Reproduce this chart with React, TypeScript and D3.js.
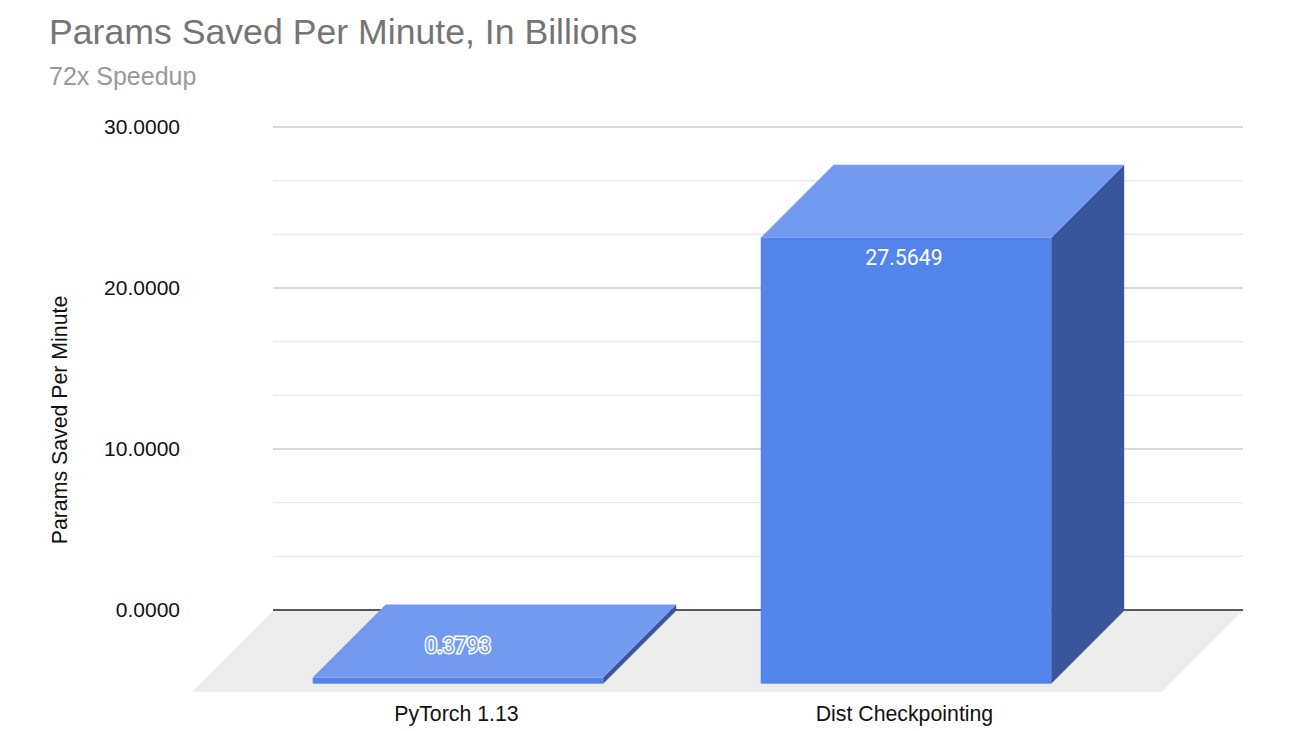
import React from "react";
import * as d3 from "d3";

const categories = ["PyTorch 1.13", "Dist Checkpointing"];
const values = [0.3793, 27.5649];
const valueLabels = ["0.3793", "27.5649"];
const majorTicks = [0, 10, 20, 30];
const minorTicks = [3.333, 6.667, 13.333, 16.667, 23.333, 26.667];
const title = "Params Saved Per Minute, In Billions";
const subtitle = "72x Speedup";
const yTitle = "Params Saved Per Minute";

const SANS = "'Liberation Sans', Arial, sans-serif";
const depth = 73;

const y = d3.scaleLinear().domain([0, 30]).range([610, 127]);
const barH = d3.scaleLinear().domain([0, 30]).range([0, 485.4]);
const x = d3.scaleBand<string>().domain(categories).range([155.2, 1208.7]).padding(0.3516);
const gridX: [number, number] = [273, 1243];
const floorDepth = 81;
const base = 610.7;

export default function App() {
  return (
    <svg width={1300} height={731} style={{ position: "absolute", left: 0, top: 0, background: "#fff" }}>
      <text x={49} y={43.5} fontFamily={SANS} fontSize={35.65} fill="#757575">{title}</text>
      <text x={49} y={85} fontFamily={SANS} fontSize={25} fill="#999999">{subtitle}</text>

      <path
        d={`M${gridX[0]},${base}L${gridX[1]},${base}L${gridX[1] - floorDepth},${base + floorDepth}L${gridX[0] - floorDepth},${base + floorDepth}Z`}
        fill="#ededed"
      />
      {minorTicks.map((t) => (
        <line key={t} x1={gridX[0]} x2={gridX[1]} y1={y(t)} y2={y(t)} stroke="#e8e8e8" strokeWidth={1.2} />
      ))}
      {majorTicks.map((t) => (
        <g key={t}>
          <line
            x1={gridX[0]}
            x2={gridX[1]}
            y1={y(t)}
            y2={y(t)}
            stroke={t === 0 ? "#222222" : "#cccccc"}
            strokeWidth={t === 0 ? 1.5 : 1.3}
          />
          <text x={180} y={y(t) + 6.7} textAnchor="end" fontFamily={SANS} fontSize={21} fill="#111">
            {d3.format(".4f")(t)}
          </text>
        </g>
      ))}
      <text
        transform="translate(66.5,420) rotate(-90)"
        textAnchor="middle"
        fontFamily={SANS}
        fontSize={21.3}
        fill="#111"
      >
        {yTitle}
      </text>

      {categories.map((c, i) => {
        const x0 = x(c)!;
        const x1 = x0 + x.bandwidth();
        const h = barH(values[i]);
        const fb = base + depth;
        const ft = fb - h;
        return (
          <g key={c}>
            <path
              d={`M${x1},${ft}L${x1 + depth},${ft - depth}L${x1 + depth},${base}L${x1},${fb}Z`}
              fill="#38569c"
            />
            <path
              d={`M${x0},${ft}L${x0 + depth},${ft - depth}L${x1 + depth},${ft - depth}L${x1},${ft}Z`}
              fill="#729bf0"
            />
            <rect x={x0} y={ft} width={x.bandwidth()} height={h} fill="#5384ec" />
          </g>
        );
      })}

      <text
        x={x(categories[0])! + x.bandwidth() / 2}
        y={652.5}
        textAnchor="middle"
        fontFamily="Roboto, sans-serif"
        fontSize={21.5}
        fill="#7aa2f2"
        stroke="#ffffff"
        strokeWidth={3}
        paintOrder="stroke"
      >
        {valueLabels[0]}
      </text>
      <text
        x={x(categories[1])! + x.bandwidth() / 2 - 2}
        y={265}
        textAnchor="middle"
        fontFamily="Roboto, sans-serif"
        fontSize={21.3}
        fill="#ffffff"
      >
        {valueLabels[1]}
      </text>

      {categories.map((c) => (
        <text
          key={c}
          x={x(c)! + x.bandwidth() / 2 - 1.5}
          y={720.7}
          textAnchor="middle"
          fontFamily={SANS}
          fontSize={21.3}
          fill="#111"
        >
          {c}
        </text>
      ))}
    </svg>
  );
}
